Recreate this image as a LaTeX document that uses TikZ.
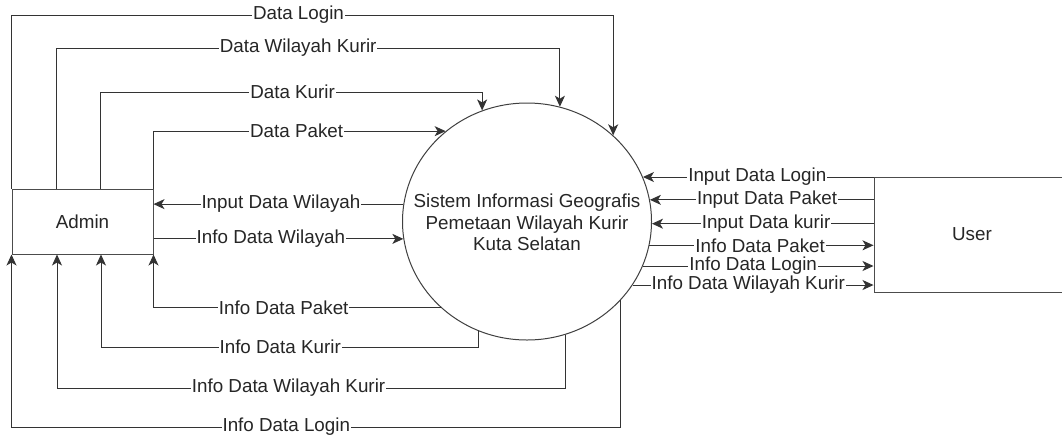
\documentclass[tikz,border=0pt]{standalone}
\usepackage{fontspec}
\setmainfont{Liberation Sans}
\usetikzlibrary{shapes.geometric,arrows.meta}
\begin{document}
\begin{tikzpicture}[x=1pt,y=-1pt,
  every node/.style={font=\fontsize{18.8}{21.5}\selectfont, text=black!85},
  entity/.style={draw=black!70, line width=1pt, fill=white, inner sep=0pt},
  proc/.style={ellipse, draw=black!75, line width=1pt, fill=white, inner sep=0pt,
    minimum width=249pt, minimum height=237pt},
  flow/.style={draw=black!80, line width=1pt, -{Stealth[length=11pt,width=10pt,inset=3pt]}},
  lbl/.style={fill=white, inner sep=1pt, outer sep=0pt}]
\useasboundingbox (0,0) rectangle (1062,437);
\fill[white] (0,0) rectangle (1062,437);

\node[entity, minimum width=141pt, minimum height=65pt] (admin) at (82.5,221.5) {Admin};
\node[proc] (sys) at (527,221.5) {};
\node[align=center, inner sep=0pt] (systext) at (527,222.5) {Sistem Informasi Geografis\\Pemetaan Wilayah Kurir\\Kuta Selatan};
\node[entity, minimum width=196pt, minimum height=115pt] (user) at (972,234.5) {User};

% Admin -> System (top)
\draw[flow] (admin.north west) -- (admin.north west |- 0,15)
  -- node[lbl,pos=0.477] {Data Login} (sys.45.5 |- 0,15) -- (sys.45.5);
\draw[flow] (56.5,0 |- admin.north) -- (56.5,48)
  -- node[lbl,pos=0.48] {Data Wilayah Kurir} (sys.74.1 |- 0,48) -- (sys.74.1);
\draw[flow] (100,0 |- admin.north) -- (100,92)
  -- node[lbl,pos=0.504] {Data Kurir} (sys.112.7 |- 0,92) -- (sys.112.7);
\draw[flow] (admin.north east) -- (admin.north east |- sys.132.35)
  -- node[lbl,pos=0.49] {Data Paket} (sys.132.35);

% middle
\draw[flow] (sys.172.4) -- node[lbl,pos=0.49] {Input Data Wilayah} (sys.172.4 -| admin.east);
\draw[flow] (sys.188.55 -| admin.east) -- node[lbl,pos=0.47] {Info Data Wilayah} (sys.188.55);

% System -> Admin (bottom)
\draw[flow] (sys.225.46) -- node[lbl,pos=0.547] {Info Data Paket} (sys.225.46 -| admin.south east) -- (admin.south east);
\draw[flow] (sys.246.8) -- (sys.246.8 |- 0,347)
  -- node[lbl,pos=0.525] {Info Data Kurir} (101,347) -- (101,0 |- admin.south);
\draw[flow] (sys.289.6) -- (sys.289.6 |- 0,388)
  -- node[lbl,pos=0.545] {Info Data Wilayah Kurir} (57,388) -- (57,0 |- admin.south);
\draw[flow] (sys.-40.9) -- (sys.-40.9 |- 0,427)
  -- node[lbl,pos=0.549] {Info Data Login} (admin.south west |- 0,427) -- (admin.south west);

% User <-> System
\draw[flow] (sys.21.09 -| user.west) -- node[lbl,pos=0.504] {Input Data Login} (sys.21.09);
\draw[flow] (sys.10.2 -| user.west) -- node[lbl,pos=0.476] {Input Data Paket} (sys.10.2);
\draw[flow] (sys.-1.15 -| user.west) -- node[lbl,pos=0.485] {Input Data kurir} (sys.-1.15);
\draw[flow] (sys.-11.6) -- node[lbl,pos=0.494] {Info Data Paket} (sys.-11.6 -| user.west);
\draw[flow] (sys.-21.6) -- node[lbl,pos=0.478] {Info Data Login} (sys.-21.6 -| user.west);
\draw[flow] (sys.-31.7) -- node[lbl,pos=0.48] {Info Data Wilayah Kurir} (sys.-31.7 -| user.west);
\end{tikzpicture}
\end{document}
